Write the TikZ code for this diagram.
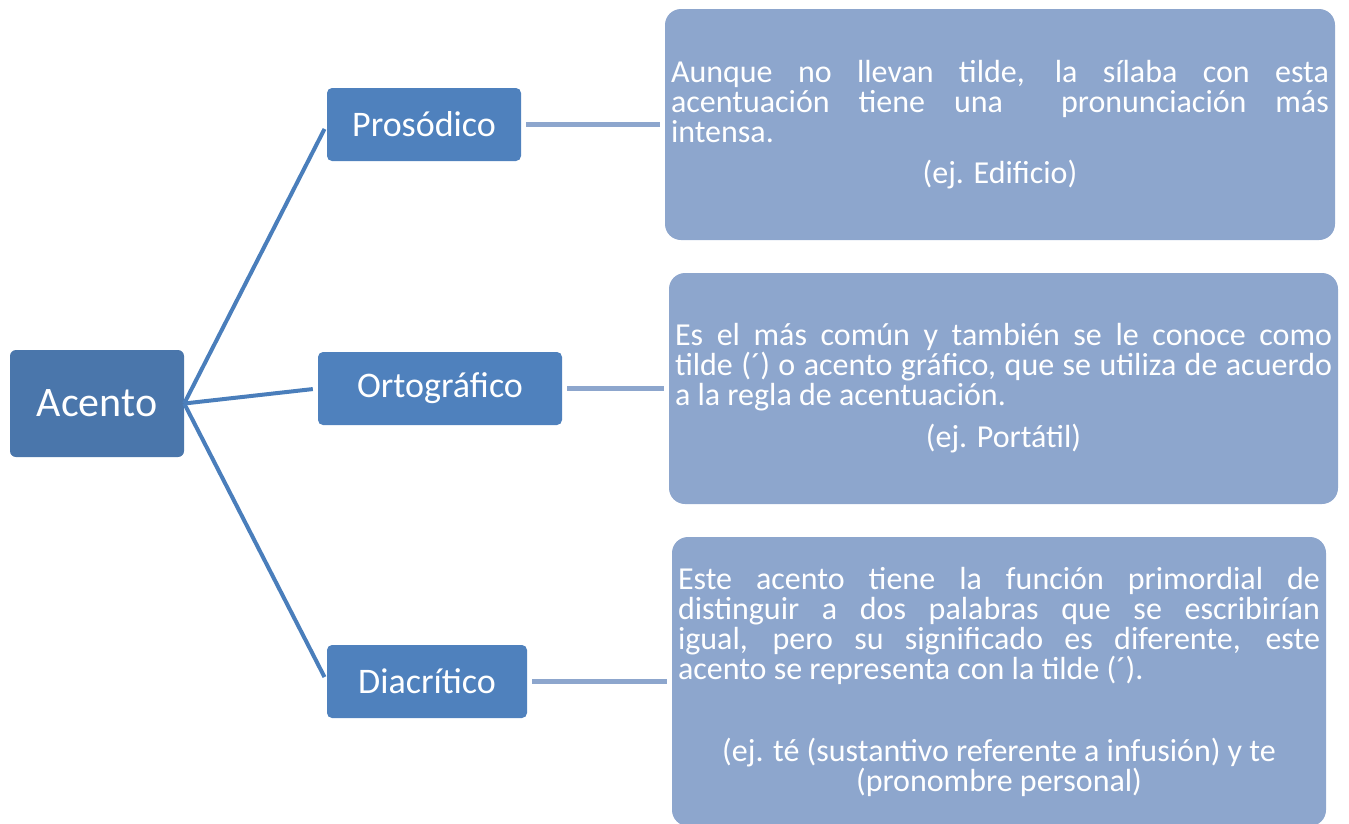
\documentclass[tikz,border=0pt]{standalone}
\usepackage{fontspec}
\setmainfont{Carlito}
\definecolor{acento}{HTML}{4A76AB}
\definecolor{sub}{HTML}{4F81BD}
\definecolor{desc}{HTML}{8DA6CD}
\definecolor{linkd}{HTML}{4A7EBB}
\hbadness=10000
\newcommand\descfont{\fontsize{32}{30}\selectfont\lineskiplimit=-100pt\relax\lineskip=0pt\relax\tolerance=10000\relax}
\begin{document}
\begin{tikzpicture}[x=1pt,y=-1pt,
  root/.style={fill=acento, text=white, rounded corners=6pt, minimum width=174pt, minimum height=107pt, font=\fontsize{42}{50}\selectfont, inner sep=0pt},
  kind/.style={fill=sub, text=white, rounded corners=5pt, minimum height=73pt, font=\fontsize{36}{43}\selectfont, inner sep=0pt},
  desc/.style={fill=desc, text=white, rounded corners=16pt, inner xsep=6pt, inner ysep=0pt, align=justify, font=\descfont},
  branch/.style={draw=linkd, line width=4pt, shorten >=5pt},
  feed/.style={draw=desc, line width=4.5pt, shorten <=5pt, shorten >=5pt}]
\useasboundingbox (0,0) rectangle (1349,823);
\node[root] (ac) at (97,403.5) {Acento};
\node[kind, minimum width=194pt] (pro) at (424,124.5) {Prosódico};
\node[kind, minimum width=244pt] (orto) at (440,388.5) {Ortográfico};
\node[kind, minimum width=200pt] (dia) at (427,681.5) {Diacrítico};

\node[desc, text width=658pt, minimum height=231pt] (d1) at (1000,124.5) {Aunque no llevan tilde, la sílaba con esta\linebreak acentuación tiene una \ pronunciación más\linebreak intensa.\par\vspace{11pt}{\centering (ej. Edificio)\par}};
\node[desc, text width=657pt, minimum height=231pt] (d2) at (1003.5,388.5) {Es el más común y también se le conoce como\linebreak tilde (´) o acento gráfico, que se utiliza de acuerdo\linebreak a la regla de acentuación.\par\vspace{12pt}{\centering (ej. Portátil)\par}};
\node[desc, text width=642pt, minimum height=289pt] (d3) at (999,681.5) {Este acento tiene la función primordial de\linebreak distinguir a dos palabras que se escribirían\linebreak igual, pero su significado es diferente, este\linebreak acento se representa con la tilde (´).\par\vspace{52pt}{\centering (ej. té (sustantivo referente a infusión) y te\par (pronombre personal)\par}};

\draw[branch] (ac.east) -- (pro.west);
\draw[branch] (ac.east) -- (orto.west);
\draw[branch] (ac.east) -- (dia.west);
\draw[feed] (pro.east) -- (d1.west);
\draw[feed] (orto.east) -- (d2.west);
\draw[feed] (dia.east) -- (d3.west);
\end{tikzpicture}
\end{document}
